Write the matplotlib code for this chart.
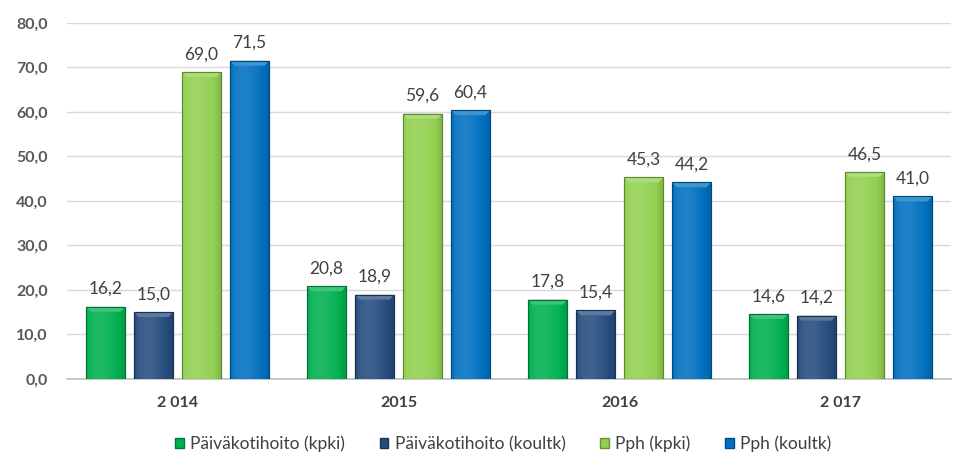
import matplotlib
matplotlib.use("Agg")
import matplotlib.pyplot as plt
import numpy as np
from matplotlib.patches import Patch
from matplotlib.colors import to_rgb

categories = ["2 014", "2015", "2016", "2 017"]
series_names = ["Päiväkotihoito (kpki)", "Päiväkotihoito (koultk)", "Pph (kpki)", "Pph (koultk)"]
paivakoti_kpki = [16.2, 20.8, 17.8, 14.6]
paivakoti_koultk = [15.0, 18.9, 15.4, 14.2]
pph_kpki = [69.0, 59.6, 45.3, 46.5]
pph_koultk = [71.5, 60.4, 44.2, 41.0]
series_values = [paivakoti_kpki, paivakoti_koultk, pph_kpki, pph_koultk]
colors = ["#00B050", "#264C7E", "#92D050", "#0070C0"]

plt.rcParams['font.family'] = ['Lato', 'DejaVu Sans']

fig = plt.figure(figsize=(9.77, 4.76), dpi=100)
ax = fig.add_axes([0.0686, 0.204, 0.905, 0.7477])

x = np.arange(len(categories))
step = 0.217
width = 0.176
offsets = (np.arange(4) - 1.5) * step

def shade(c, f):
    r = np.array(to_rgb(c))
    if f >= 0:
        return tuple(r + (1 - r) * f)
    return tuple(r * (1 + f))

for i, (vals, col) in enumerate(zip(series_values, colors)):
    bars = ax.bar(x + offsets[i], vals, width, color=col, edgecolor=shade(col, -0.35),
                  linewidth=0.8, zorder=3)
    for b, v in zip(bars, vals):
        x0 = b.get_x(); w = b.get_width(); h = b.get_height()
        grad = np.linspace(0, 1, 64)
        prof = 0.12 * np.exp(-((grad - 0.35) / 0.35) ** 2) - 0.12 * np.clip((grad - 0.8) / 0.2, 0, 1) \
               - 0.08 * np.clip((0.08 - grad) / 0.08, 0, 1)
        img = np.zeros((2, 64, 4))
        for k, p in enumerate(prof):
            img[:, k, :3] = shade(col, p)
            img[:, k, 3] = 1.0
        im = ax.imshow(img, extent=[x0, x0 + w, 0, h], aspect='auto', zorder=3.5,
                       interpolation='bilinear')
        im.set_clip_path(b)
        tb = min(1.1, h * 0.3)
        ax.fill([x0, x0 + w, x0 + w - 0.02, x0 + 0.02], [h, h, h - tb, h - tb],
                color=shade(col, 0.25), zorder=3.6, lw=0)
        ax.bar(x0 + w / 2, h, w, fill=False, edgecolor=shade(col, -0.35), linewidth=0.8, zorder=3.7)
        ax.text(x0 + w / 2, h + 2.2, f"{v:.1f}".replace(".", ","), ha='center', va='bottom',
                fontsize=12.5, color='#404040', zorder=4)

ax.set_xlim(-0.5, len(categories) - 0.5)
ax.set_ylim(0, 80)
ax.set_yticks(np.arange(0, 81, 10))
ax.set_yticklabels([f"{t:.1f}".replace(".", ",") for t in np.arange(0, 81, 10)])
ax.set_xticks(x)
ax.set_xticklabels(categories)
ax.yaxis.grid(True, color='#D9D9D9', linewidth=1, zorder=0)
ax.set_axisbelow(True)
for s in ['top', 'right', 'left']:
    ax.spines[s].set_visible(False)
ax.spines['bottom'].set_color('#BFBFBF')
ax.spines['bottom'].set_linewidth(1.2)
ax.tick_params(axis='y', length=0, pad=14, labelsize=11.5, labelcolor='#595959')
ax.tick_params(axis='x', length=0, pad=12, labelsize=11.5, labelcolor='#404040')
for t in ax.get_yticklabels() + ax.get_xticklabels():
    t.set_fontweight('bold')

handles = [Patch(facecolor=c, edgecolor=shade(c, -0.3)) for c in colors]
fig.legend(handles, series_names, loc='center', bbox_to_anchor=(0.515, 0.067), ncol=4,
           frameon=False, fontsize=12.5, handlelength=0.5, handleheight=0.5,
           handletextpad=0.35, columnspacing=2.0, labelcolor='#404040')

fig.savefig("out.png", dpi=100)
